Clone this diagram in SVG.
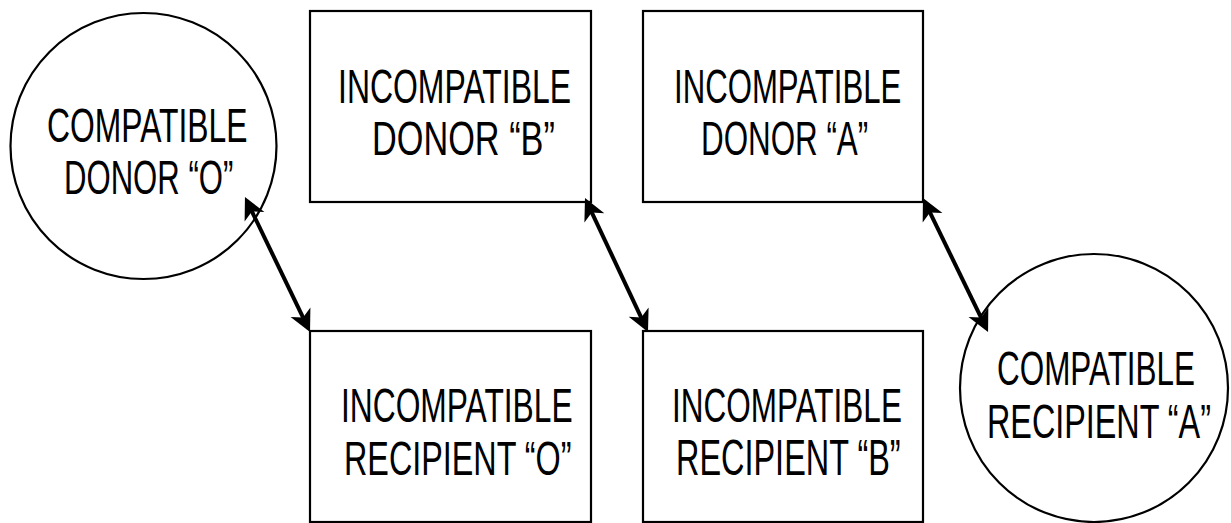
<svg xmlns="http://www.w3.org/2000/svg" width="1231" height="523" viewBox="0 0 1231 523">
<style>
.shape{fill:#fff;stroke:#000;stroke-width:2.2}
.lbl{font-family:"Liberation Sans",Arial,sans-serif;font-size:49px;fill:#000}
.conn{stroke:#000;stroke-width:4;fill:none}
</style>
<defs>
<marker id="ah" markerUnits="userSpaceOnUse" viewBox="-25 -15 30 30" markerWidth="30" markerHeight="30" refX="0" refY="0" orient="auto-start-reverse">
<path d="M4,0 L-18,-11 L-12,0 L-18,11 Z" fill="#000"/>
</marker>
</defs>
<rect width="1231" height="523" fill="#fff"/>
<g id="donor-o">
<circle class="shape" cx="143.5" cy="146" r="133"/>
<text class="lbl" transform="translate(47,142) scale(0.65,1)">COMPATIBLE</text>
<text class="lbl" transform="translate(64,194) scale(0.635,1)">DONOR “O”</text>
</g>
<g id="donor-b">
<rect class="shape" x="310" y="11" width="281" height="191"/>
<text class="lbl" transform="translate(338,103) scale(0.652,1)">INCOMPATIBLE</text>
<text class="lbl" transform="translate(372,155) scale(0.70,1)">DONOR “B”</text>
</g>
<g id="donor-a">
<rect class="shape" x="643" y="11" width="280" height="191"/>
<text class="lbl" transform="translate(674,103) scale(0.636,1)">INCOMPATIBLE</text>
<text class="lbl" transform="translate(701,155) scale(0.64,1)">DONOR “A”</text>
</g>
<g id="recipient-o">
<rect class="shape" x="310" y="331" width="281" height="191"/>
<text class="lbl" transform="translate(341,422) scale(0.648,1)">INCOMPATIBLE</text>
<text class="lbl" transform="translate(344,475) scale(0.66,1)">RECIPIENT “O”</text>
</g>
<g id="recipient-b">
<rect class="shape" x="643" y="331" width="280" height="191"/>
<text class="lbl" transform="translate(672,422) scale(0.643,1)">INCOMPATIBLE</text>
<text class="lbl" transform="translate(676,475) scale(0.662,1)">RECIPIENT “B”</text>
</g>
<g id="recipient-a">
<circle class="shape" cx="1094" cy="388" r="134"/>
<text class="lbl" transform="translate(997,385) scale(0.642,1)">COMPATIBLE</text>
<text class="lbl" transform="translate(987,438) scale(0.66,1)">RECIPIENT “A”</text>
</g>
<g id="connectors">
<line class="conn" x1="246.7" y1="200.6" x2="308.3" y2="328.4" marker-start="url(#ah)" marker-end="url(#ah)"/>
<line class="conn" x1="586.7" y1="201.6" x2="646.3" y2="328.4" marker-start="url(#ah)" marker-end="url(#ah)"/>
<line class="conn" x1="924.7" y1="201.6" x2="986.3" y2="328.4" marker-start="url(#ah)" marker-end="url(#ah)"/>
</g>
</svg>
